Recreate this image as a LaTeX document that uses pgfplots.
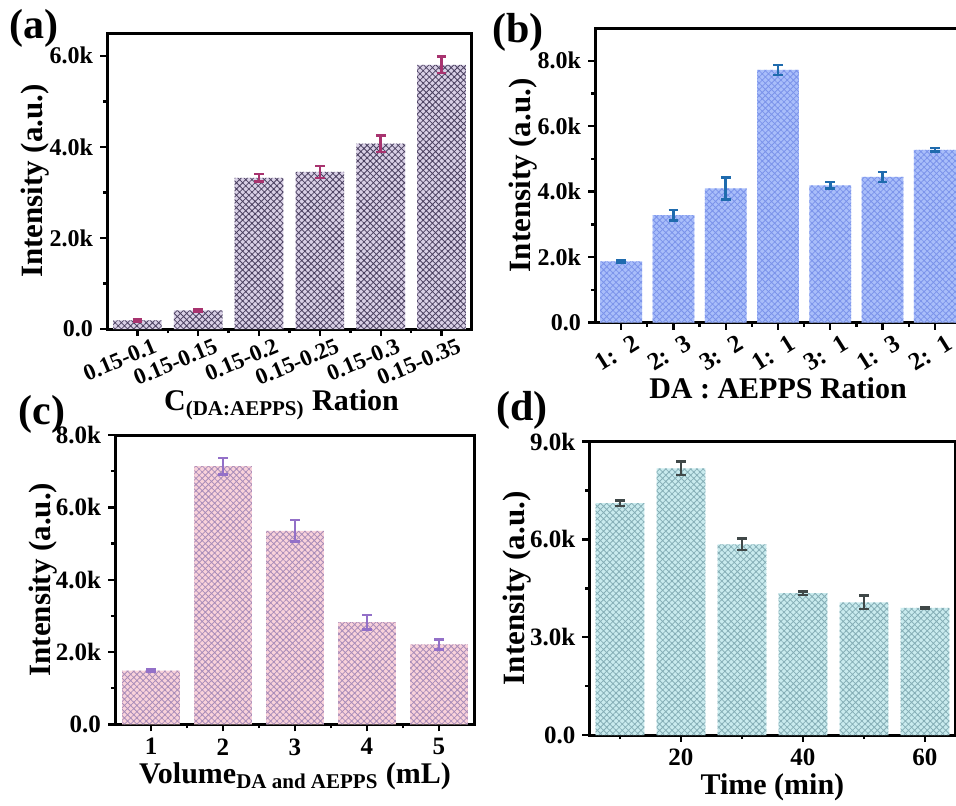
\documentclass[border=0pt]{standalone}
\usepackage{pgfplots}
\pgfplotsset{compat=1.18}
\usepackage{fontspec}
\setmainfont{Liberation Serif}
\usetikzlibrary{patterns.meta}

\definecolor{afill}{HTML}{D9D0E6}\definecolor{ahatch}{HTML}{4A4060}\definecolor{aerr}{HTML}{A8336F}
\definecolor{bfill}{HTML}{A9BEFA}\definecolor{bhatch}{HTML}{7B93EA}\definecolor{berr}{HTML}{1F6BAE}
\definecolor{cfill}{HTML}{F9D2DA}\definecolor{chatch}{HTML}{A88CB8}\definecolor{cerr}{HTML}{9370C8}
\definecolor{dfill}{HTML}{C9EBEE}\definecolor{dhatch}{HTML}{85AEB6}\definecolor{derr}{HTML}{404848}

\pgfplotsset{
  panel/.style={
    scale only axis, anchor=north west,
    ymin=0,
    axis line style={line width=1.5pt},
    tick style={line width=1.2pt, black},
    major tick length=3.5pt, minor tick length=2pt,
    tick align=outside, tick pos=left,
    /pgf/number format/assume math mode=true,
    ticklabel style={font=\fontsize{12}{14}\selectfont\bfseries},
    ylabel style={font=\fontsize{15.5}{18}\selectfont\bfseries,
      at={(axis description cs:0,0.5)}, anchor=south, yshift=25.5pt},
    xlabel style={font=\fontsize{15}{17}\selectfont\bfseries},
    ylabel={Intensity (a.u.)},
  },
  bars/.style n args={3}{
    ybar, bar width=#1, fill=#2, draw=none,
    postaction={pattern={Hatch[angle=45,distance=2.2pt,line width=0.4pt]}, pattern color=#3},
  },
  errs/.style={
    error bars/.cd, y dir=both, y explicit,
    error bar style={line width=1.3pt, color=#1},
    error mark options={rotate=90, line width=1.3pt, mark size=2.4pt, color=#1},
  },
}

\pgfplotstableread{
x y e
1 190 20
2 410 20
3 3320 80
4 3450 130
5 4070 180
6 5800 180
}\dataA
\pgfplotstableread{
x y e
1 1870 40
2 3280 160
3 4100 340
4 7720 150
5 4190 100
6 4450 150
7 5280 60
}\dataB
\pgfplotstableread{
x y e
1 1490 30
2 7140 230
3 5350 300
4 2830 200
5 2210 140
}\dataC
\pgfplotstableread{
x y e
10 7110 90
20 8180 210
30 5850 170
40 4350 50
50 4070 210
60 3900 20
}\dataD

\begin{document}
\begin{tikzpicture}
\useasboundingbox (0,0) rectangle (478pt,-402.5pt);

% (a)
\begin{axis}[panel, at={(53.5pt,-16.5pt)}, width=182.5pt, height=148pt,
  xmin=0.5, xmax=6.5, ymax=6500,
  ytick={0,2000,4000,6000}, yticklabels={0.0,2.0k,4.0k,6.0k},
  minor ytick={1000,3000,5000},
  xtick={1,...,6}, minor xtick={1.5,2.5,3.5,4.5,5.5},
  xticklabels={0.15-0.1,0.15-0.15,0.15-0.2,0.15-0.25,0.15-0.3,0.15-0.35},
  xticklabel style={font=\fontsize{11.5}{13}\selectfont\bfseries, rotate=23, anchor=north east, xshift=10pt, yshift=0pt},
  xlabel={C\textsubscript{(DA:AEPPS)} Ration},
  xlabel style={at={(axis description cs:0.5,0)}, anchor=north, yshift=-27pt, xshift=-4pt},
]
\addplot[bars={0.8}{afill}{ahatch}, errs=aerr] table[x=x,y=y,y error=e]{\dataA};
\end{axis}

% (b)
\begin{axis}[panel, at={(297.5pt,-14pt)}, width=183pt, height=147.3pt,
  xmin=0.5, xmax=7.5, ymax=9000,
  ytick={0,2000,4000,6000,8000}, yticklabels={0.0,2.0k,4.0k,6.0k,8.0k},
  minor ytick={1000,3000,5000,7000},
  xtick={1,...,7}, minor xtick={1.5,2.5,3.5,4.5,5.5,6.5},
  xticklabels={1:\ \ 2,2:\ \ 3,3:\ \ 2,1:\ \ 1,3:\ \ 1,1:\ \ 3,2:\ \ 1},
  xticklabel style={font=\fontsize{12.5}{14}\selectfont\bfseries, rotate=32, anchor=north east, xshift=7pt, yshift=-1pt},
  xlabel={DA : AEPPS Ration},
  xlabel style={at={(axis description cs:0.5,0)}, anchor=north, yshift=-24pt},
]
\addplot[bars={0.8}{bfill}{bhatch}, errs=berr] table[x=x,y=y,y error=e]{\dataB};
\end{axis}

% (c)
\begin{axis}[panel, at={(57.5pt,-217.5pt)}, width=180pt, height=144.7pt,
  xmin=0.5, xmax=5.5, ymax=8000,
  ytick={0,2000,4000,6000,8000}, yticklabels={0.0,2.0k,4.0k,6.0k,8.0k},
  minor ytick={1000,3000,5000,7000},
  xtick={1,...,5}, minor xtick={1.5,2.5,3.5,4.5},
  xticklabels={1,2,3,4,5},
  ticklabel style={font=\fontsize{12.5}{14}\selectfont\bfseries},
  xlabel={Volume\textsubscript{DA and AEPPS} (mL)},
  xlabel style={yshift=3pt},
]
\addplot[bars={0.8}{cfill}{chatch}, errs=cerr] table[x=x,y=y,y error=e]{\dataC};
\end{axis}

% (d)
\begin{axis}[panel, at={(294.7pt,-220.8pt)}, width=183pt, height=146.7pt,
  xmin=5, xmax=65, ymax=9000,
  ytick={0,3000,6000,9000}, yticklabels={0.0,3.0k,6.0k,9.0k},
  minor ytick={1500,4500,7500},
  xtick={20,40,60}, minor xtick={10,30,50},
  xticklabels={20,40,60},
  ticklabel style={font=\fontsize{12.5}{14}\selectfont\bfseries},
  xlabel={Time (min)},
  xlabel style={yshift=3pt},
]
\addplot[bars={8}{dfill}{dhatch}, errs=derr] table[x=x,y=y,y error=e]{\dataD};
\end{axis}

\node[font=\fontsize{21}{24}\selectfont\bfseries] at (17pt,-14pt) {(a)};
\node[font=\fontsize{21}{24}\selectfont\bfseries] at (259pt,-16pt) {(b)};
\node[font=\fontsize{21}{24}\selectfont\bfseries] at (21pt,-207pt) {(c)};
\node[font=\fontsize{21}{24}\selectfont\bfseries] at (261pt,-205pt) {(d)};
\end{tikzpicture}
\end{document}
